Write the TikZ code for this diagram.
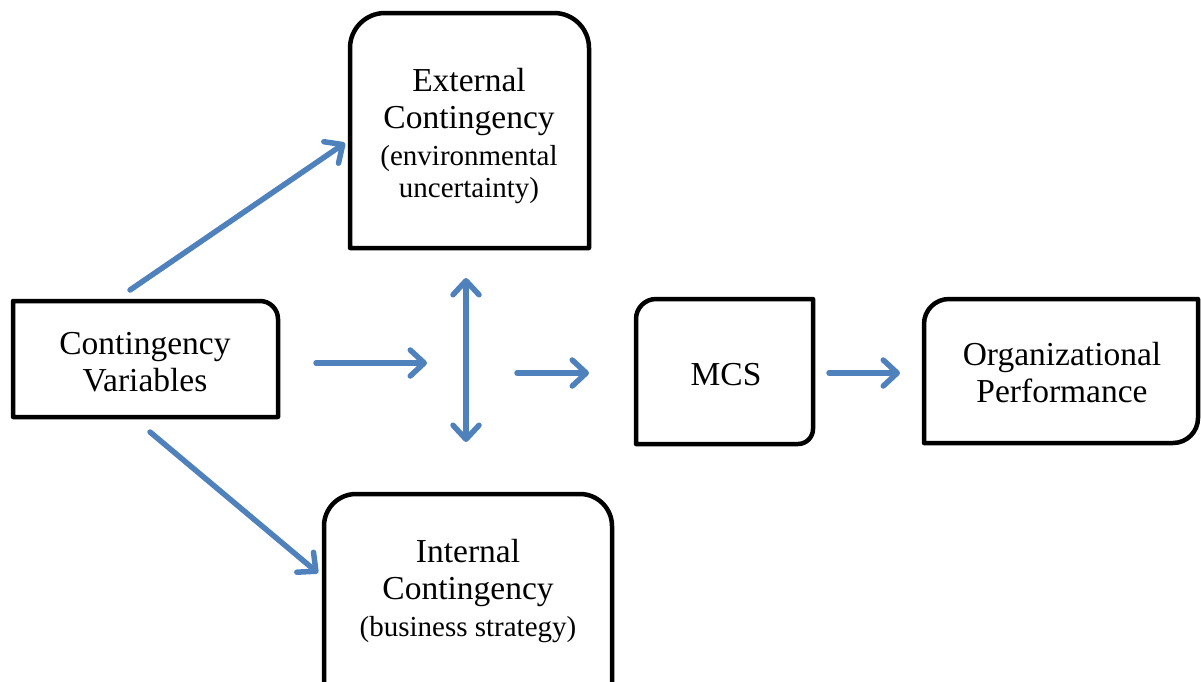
\documentclass[tikz,border=0pt]{standalone}
\usepackage{fontspec}
\setmainfont{Liberation Serif}
\usetikzlibrary{arrows.meta}
\definecolor{arrowblue}{RGB}{79,129,189}
\newcommand\bigf{\fontsize{33.5}{37}\selectfont}
\newcommand\smallf{\fontsize{29}{31}\selectfont}
\begin{document}
\begin{tikzpicture}[x=1pt,y=-1pt,
  frame/.style={line width=4.5pt, black, line join=round},
  boxnode/.style={draw=none, inner sep=0pt, outer sep=0pt, rectangle},
  txt/.style={align=center, inner sep=0pt, font=\bigf},
  flow/.style={line width=5.5pt, arrowblue, line cap=round,
    -{Straight Barb[length=14pt,width=26pt,line cap=round,line join=round]}},
]
\useasboundingbox (0,0) rectangle (1201,681);

% box nodes
\node[boxnode, minimum width=265pt, minimum height=116pt] (cv)  at (145.5,359) {};
\node[boxnode, minimum width=239pt, minimum height=235pt] (ext) at (469.5,130.5) {};
\node[boxnode, minimum width=177pt, minimum height=145pt] (mcs) at (724.5,371.5) {};
\node[boxnode, minimum width=274pt, minimum height=144pt] (op)  at (1061,371) {};
\node[boxnode, minimum width=288pt, minimum height=192pt] (int) at (468,590) {};

% outlines
\draw[frame] (cv.south west) -- (cv.north west) -- ([xshift=-18pt]cv.north east)
  arc[start angle=90,end angle=0,radius=18pt] -- (cv.south east) -- cycle;
\draw[frame] (ext.south west) -- ([yshift=-35pt]ext.north west)
  arc[start angle=180,end angle=90,radius=35pt] -- ([xshift=-35pt]ext.north east)
  arc[start angle=90,end angle=0,radius=35pt] -- (ext.south east) -- cycle;
\draw[frame] (mcs.south west) -- ([yshift=-20pt]mcs.north west)
  arc[start angle=180,end angle=90,radius=20pt] -- (mcs.north east)
  -- ([yshift=15pt]mcs.south east) arc[start angle=0,end angle=-90,radius=15pt] -- cycle;
\draw[frame] (op.south west) -- ([yshift=-25pt]op.north west)
  arc[start angle=180,end angle=90,radius=25pt] -- (op.north east)
  -- ([yshift=25pt]op.south east) arc[start angle=0,end angle=-90,radius=25pt] -- cycle;
\draw[frame] (int.south west) -- ([yshift=-32pt]int.north west)
  arc[start angle=180,end angle=90,radius=32pt] -- ([xshift=-32pt]int.north east)
  arc[start angle=90,end angle=0,radius=32pt] -- (int.south east);

% texts
\node[txt] (cvt) at (145,362) {Contingency\\Variables};
\node[txt] (extt) at (469,136) {External\\Contingency\\[0pt]{\smallf(environmental}\\[-5pt]{\smallf uncertainty)}};
\node[txt] (mcst) at (726,375) {MCS};
\node[txt] (opt) at (1062,373) {Organizational\\Performance};
\node[txt] (intt) at (468,591) {Internal\\Contingency\\{\smallf(business strategy)}};

% arrow end points
\coordinate (a1s) at (130,290);  \coordinate (a1e) at (345,143);
\coordinate (a2s) at (150,432);  \coordinate (a2e) at (318,573);
\coordinate (a3s) at (316,363);  \coordinate (a3e) at (427,363);
\coordinate (vt)  at (466,278);  \coordinate (vb)  at (466,442);
\coordinate (a5s) at (517,373);  \coordinate (a5e) at (589,373);
\coordinate (a6s) at (829,373);  \coordinate (a6e) at (900,373);

\draw[flow] (a1s) -- (a1e);
\draw[flow] (a2s) -- (a2e);
\draw[flow] (a3s) -- (a3e);
\draw[flow, {Straight Barb[length=14pt,width=26pt,line cap=round,line join=round]}-{Straight Barb[length=14pt,width=26pt,line cap=round,line join=round]}] (vt) -- (vb);
\draw[flow] (a5s) -- (a5e);
\draw[flow] (a6s) -- (a6e);
\end{tikzpicture}
\end{document}
